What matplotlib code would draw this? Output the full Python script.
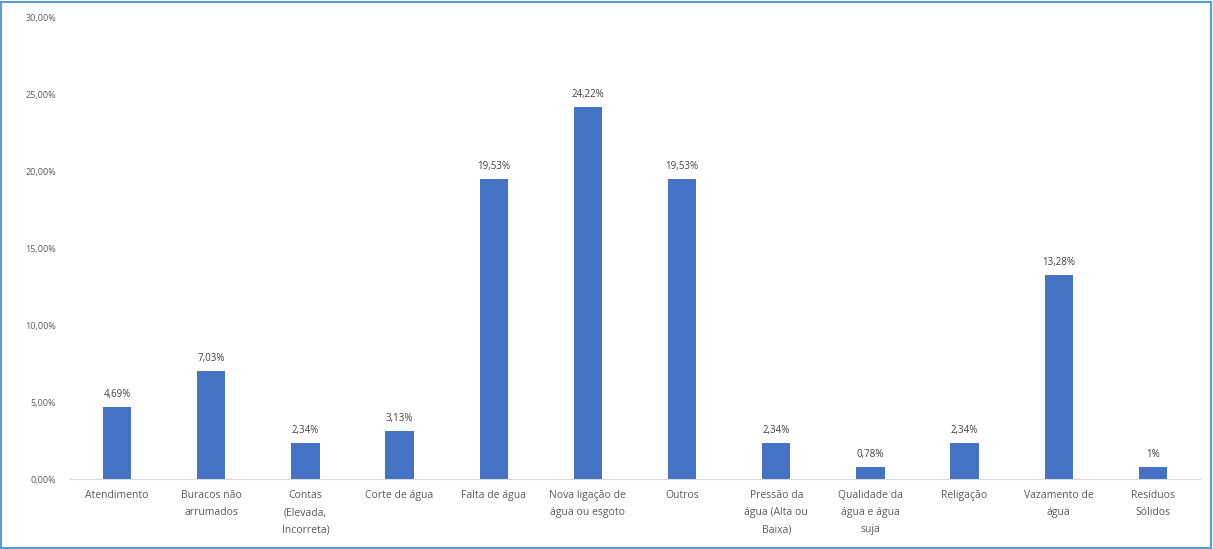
import numpy as np
import matplotlib.pyplot as plt
from matplotlib.patches import Rectangle
from matplotlib.ticker import FuncFormatter

categories = [
    "Atendimento", "Buracos não\narrumados", "Contas\n(Elevada,\nIncorreta)",
    "Corte de água", "Falta de água", "Nova ligação de\nágua ou esgoto", "Outros",
    "Pressão da\nágua (Alta ou\nBaixa)", "Qualidade da\nágua e água\nsuja",
    "Religação", "Vazamento de\nágua", "Resíduos\nSólidos",
]
values = [4.69, 7.03, 2.34, 3.13, 19.53, 24.22, 19.53, 2.34, 0.78, 2.34, 13.28, 0.78]
value_labels = ["4,69%", "7,03%", "2,34%", "3,13%", "19,53%", "24,22%", "19,53%",
                "2,34%", "0,78%", "2,34%", "13,28%", "1%"]

plt.rcParams['font.family'] = ['Open Sans', 'DejaVu Sans']
text_color = "#595959"

fig = plt.figure(figsize=(12.13, 5.49), dpi=100)
ax = fig.add_axes([70 / 1213, 70 / 549, 1130 / 1213, 461 / 549])

x = np.arange(len(categories))
bars = ax.bar(x, values, width=0.3, color="#4472C4", zorder=2)

for bar, lab in zip(bars, value_labels):
    ax.text(bar.get_x() + bar.get_width() / 2, bar.get_height() + 0.45, lab,
            ha="center", va="bottom", fontsize=7, color="#404040")

ax.set_xlim(-0.5, len(categories) - 0.5)
ax.set_ylim(0, 30)
ax.set_yticks(np.arange(0, 31, 5))
ax.yaxis.set_major_formatter(FuncFormatter(lambda v, p: f"{v:.2f}%".replace(".", ",")))
ax.set_xticks(x)
ax.set_xticklabels(categories, fontsize=7.5, color=text_color, linespacing=1.75)
ax.tick_params(axis="y", length=0, labelsize=6.5, labelcolor=text_color, pad=10)
ax.tick_params(axis="x", length=0, pad=8)

for side in ["top", "right", "left"]:
    ax.spines[side].set_visible(False)
ax.spines["bottom"].set_color("#d9d9d9")

fig.patches.append(Rectangle((0.001, 0.002), 0.997, 0.995, transform=fig.transFigure,
                             fill=False, edgecolor="#5b9bd5", linewidth=1.5))

fig.savefig("out.png", dpi=100)
